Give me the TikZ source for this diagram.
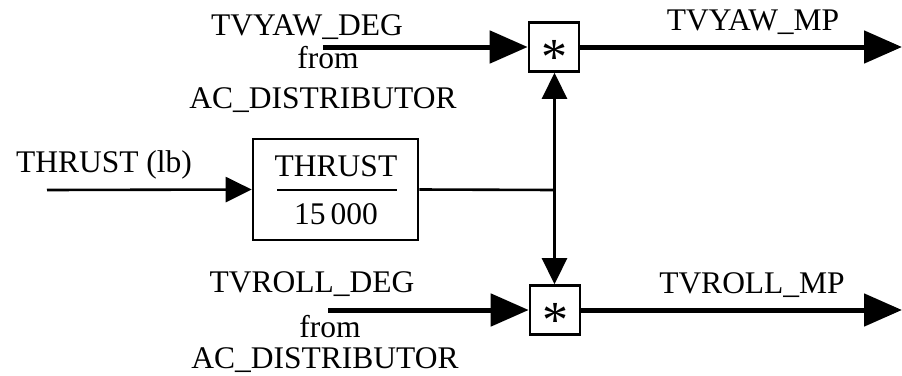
\documentclass[tikz,border=0pt]{standalone}
\usepackage{fontspec}
\setmainfont{Liberation Serif}
\usetikzlibrary{arrows.meta}
\begin{document}
\begin{tikzpicture}[x=1pt,y=-1pt,
  every node/.style={font=\fontsize{31.5}{34}\selectfont, inner sep=0pt},
  lbl/.style={anchor=base},
  astx/.style={anchor=base, font=\fontsize{52}{52}\selectfont},
  mulbox/.style={draw, line width=2.6pt, minimum width=50pt, minimum height=49pt},
  divbox/.style={draw, line width=2.6pt, minimum width=165pt, minimum height=101pt},
  bigsig/.style={line width=5pt, -{Triangle[length=38pt,width=32pt]}},
  smallsig/.style={line width=2.6pt, -{Triangle[length=26pt,width=25pt]}},
  feed/.style={line width=2.6pt}]
\useasboundingbox (0,0) rectangle (902,375);

% blocks
\node[divbox] (div) at (335.5,189.5) {};
\node (num) at (336,176) [lbl] {THRUST};
\node (den) at (336,224) [lbl] {15\,000};
\draw[line width=2.4pt] (277,190) -- (397,190);
\node[mulbox] (mtop) at (554,47) {};
\node[mulbox] (mbot) at (555,310) {};
\node (ast1) at (554,74) [astx] {*};
\node (ast2) at (555,337) [astx] {*};

% free ends of the signal lines
\coordinate (thrustin) at (47,190);
\coordinate (yawin) at (323,47);
\coordinate (rollin) at (328,310);
\coordinate (yawout) at (902,47);
\coordinate (rollout) at (902,310);
\coordinate (tap) at (554.5,190);

% signal lines
\draw[smallsig] (thrustin) -- (div.west);
\draw[bigsig] (yawin) -- (mtop.west);
\draw[bigsig] (rollin) -- (mbot.west);
\draw[bigsig] (mtop.east) -- (yawout);
\draw[bigsig] (mbot.east) -- (rollout);
\draw[feed] (div.east) -- (tap);
\draw[smallsig] (tap) -- (mtop.south -| tap);
\draw[smallsig] (tap) -- (mbot.north -| tap);

% labels
\node (thrustlbl) at (104,172) [lbl] {THRUST (lb)};
\node (yawdeg) at (307,35) [lbl] {TVYAW\_DEG};
\node (yawfrom) at (328,68) [lbl] {from};
\node (yawsrc) at (323,108) [lbl] {AC\_DISTRIBUTOR};
\node (rolldeg) at (312,292) [lbl] {TVROLL\_DEG};
\node (rollfrom) at (330,337) [lbl] {from};
\node (rollsrc) at (325,368) [lbl] {AC\_DISTRIBUTOR};
\node (yawmp) at (753,30) [lbl] {TVYAW\_MP};
\node (rollmp) at (752,293) [lbl] {TVROLL\_MP};
\end{tikzpicture}
\end{document}
